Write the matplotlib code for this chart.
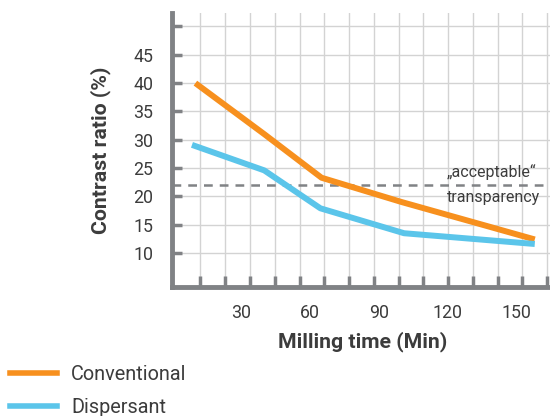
import numpy as np
import matplotlib.pyplot as plt
from matplotlib.lines import Line2D

# data
tempo = [10, 40, 65, 100, 158]
convencional = [40, 31, 23.3, 19.0, 12.4]
tempo_disp = [8.5, 40, 64.5, 101, 158]
dispersante = [29.1, 24.6, 17.9, 13.5, 11.6]
limite = 22
xticks_lab = [30, 60, 90, 120, 150]
yticks_lab = [10, 15, 20, 25, 30, 35, 40, 45, 50]

laranja = '#f7901e'
azul = '#5bc5ea'
cinza = '#808285'
texto = '#3c3c3c'

plt.rcParams['font.family'] = ['Roboto', 'DejaVu Sans']

fig = plt.figure(figsize=(5.5, 4.16), dpi=100)
ax = fig.add_axes([0.3136, 0.31, 0.69, 0.659])

ax.plot(tempo, convencional, color=laranja, lw=4.3, solid_capstyle='butt', zorder=4)
ax.plot(tempo_disp, dispersante, color=azul, lw=4.3, solid_capstyle='butt', zorder=4)
ax.axhline(limite, color=cinza, lw=1.8, ls=(0, (3.5, 2.8)), zorder=3)
ax.text(119.5, 22.95, '„acceptable“', fontsize=11.5, color=texto, va='bottom')
ax.text(119.5, 21.1, 'transparency', fontsize=11.5, color=texto, va='top')

ax.set_xlim(0, 165.5)
ax.set_ylim(4, 52.4)

# grade decorativa (nao alinhada com os rotulos)
grade_x = np.arange(12.2, 166, 10.8)
ax.set_xticks(grade_x, minor=True)
ax.set_xticks(xticks_lab)
ax.set_xticklabels([str(v) for v in xticks_lab], fontsize=12.8, color=texto)
ax.set_yticks(yticks_lab)
ax.set_yticklabels([str(v) if v < 50 else '' for v in yticks_lab], fontsize=12.8, color=texto)

ax.tick_params(axis='x', which='major', length=0, pad=12)
ax.tick_params(axis='x', which='minor', direction='in', length=8, width=2.5, color=cinza)
ax.tick_params(axis='y', which='major', direction='in', length=7, width=2.5, color=cinza, pad=14)

ax.grid(True, which='minor', axis='x', color='#d3d3d3', lw=1)
ax.grid(True, which='major', axis='y', color='#d3d3d3', lw=1)
ax.set_axisbelow(True)

for lado in ['top', 'right']:
    ax.spines[lado].set_visible(False)
for lado in ['left', 'bottom']:
    ax.spines[lado].set_color(cinza)
    ax.spines[lado].set_linewidth(3.5)

ax.set_xlabel('Milling time (Min)', fontsize=15.3, fontweight='bold', color=texto, labelpad=7)
ax.set_ylabel('Contrast ratio (%)', fontsize=15.3, fontweight='bold', color=texto, labelpad=16)

handles = [Line2D([], [], color=laranja, lw=4),
           Line2D([], [], color=azul, lw=4)]
fig.legend(handles, ['Conventional', 'Dispersant'], loc='lower left',
           bbox_to_anchor=(-0.015, -0.045), frameon=False,
           handlelength=2.4, handletextpad=0.7, labelspacing=0.68,
           labelcolor=texto, prop={'family': ['Roboto'], 'size': 14.3})

plt.savefig('out.png', dpi=100)
